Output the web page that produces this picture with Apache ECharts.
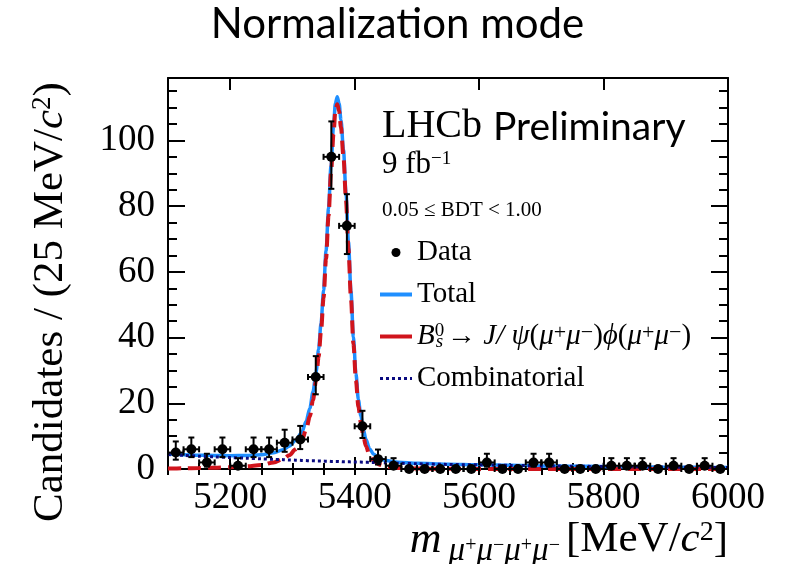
<!DOCTYPE html>
<html>
<head>
<meta charset="utf-8">
<script src="https://cdn.jsdelivr.net/npm/echarts@6/dist/echarts.min.js"></script>
<style>html,body{margin:0;padding:0;background:#fff}#c{width:795px;height:564px}</style>
</head>
<body>
<div id="c"></div>
<script>
// ---- data ----
const binHalfWidth = 12.5;
const binCenters = [5112.5,5137.5,5162.5,5187.5,5212.5,5237.5,5262.5,5287.5,5312.5,5337.5,5362.5,5387.5,5412.5,5437.5,5462.5,5487.5,5512.5,5537.5,5562.5,5587.5,5612.5,5637.5,5662.5,5687.5,5712.5,5737.5,5762.5,5787.5,5812.5,5837.5,5862.5,5887.5,5912.5,5937.5,5962.5,5987.5];
const dataCounts = [5,6,2,6,1,6,6,8,9,28,95,74,13,3,1,0,0,0,0,0,2,0,0,2,2,0,0,0,1,1,1,0,1,0,1,0];
const errLow  = [2.16,2.38,1.29,2.38,0.83,2.38,2.38,2.77,2.94,5.27,9.73,8.58,3.56,1.63,0.83,0,0,0,0,0,1.29,0,0,1.29,1.29,0,0,0,0.83,0.83,0.83,0,0.83,0,0.83,0];
const errHigh = [3.38,3.58,2.64,3.58,2.30,3.58,3.58,3.95,4.11,6.35,10.79,9.64,4.71,2.92,2.30,0,0,0,0,0,2.64,0,0,2.64,2.64,0,0,0,2.30,2.30,2.30,0,2.30,0,2.30,0];

const curveMass = [5100,5125,5150,5175,5200,5225,5250,5270,5285,5295,5305,5315,5322,5328,5333,5338,5342,5346,5350,5354,5358,5362,5366,5369,5372,5375,5378,5382,5386,5390,5394,5398,5402,5406,5410,5414,5418,5424,5430,5440,5450,5470,5500,5550,5600,5650,5700,5750,5800,5850,5900,5950,6000];
const totalCurve = [4.55,4.35,4.2,4.1,4.05,4.1,4.3,4.95,5.85,6.95,8.7,11.1,14.55,18.5,23.5,29.45,36.45,44.4,54.4,66.35,79.35,92.3,104.3,111.3,113.3,111.25,106.25,97.2,84.2,69.2,54.15,40.15,29.1,21.1,16.1,12.05,9.05,6.2,4.6,3.25,2.55,2.05,1.72,1.45,1.27,1.11,0.95,0.85,0.75,0.65,0.57,0.5,0.44];
const signalCurve = [0.15,0.2,0.3,0.4,0.55,0.8,1.2,2.0,3.0,4.2,6.0,8.5,12,16,21,27,34,42,52,64,77,90,102,109,111,109,104,95,82,67,52,38,27,19,14,10,7,4.2,2.6,1.3,0.7,0.3,0.12,0.05,0.02,0.01,0,0,0,0,0,0,0];
const combCurve = [4.4,4.15,3.9,3.7,3.5,3.3,3.1,2.95,2.85,2.75,2.7,2.6,2.55,2.5,2.5,2.45,2.45,2.4,2.4,2.35,2.35,2.3,2.3,2.3,2.3,2.25,2.25,2.2,2.2,2.2,2.15,2.15,2.1,2.1,2.1,2.05,2.05,2.0,2.0,1.95,1.85,1.75,1.6,1.4,1.25,1.1,0.95,0.85,0.75,0.65,0.57,0.5,0.44];

const xMin = 5100, xMax = 6000, yMin = 0, yMax = 119;
const xMajor = 200, xMinor = 50, yMajor = 20, yMinor = 5;

// ---- chart ----
const serif = 'Liberation Serif';
const blue = '#1f8fff', red = '#d0141c', navy = '#0a0a80';
const chart = echarts.init(document.getElementById('c'), null, {renderer: 'canvas'});

const pair = (xs, ys) => xs.map((x, i) => [x, ys[i]]);
const frameLine = {show: true, onZero: false, lineStyle: {color: '#000', width: 2}};

function xAx(pos, major) {
  const a = {
    type: 'value', position: pos, min: xMin, max: xMax, gridIndex: 0,
    axisLine: major ? frameLine : {show: false},
    axisTick: {show: true, inside: true, length: major ? 12 : 6, lineStyle: {color: '#000', width: 2}},
    axisLabel: {show: false},
    splitLine: {show: false}
  };
  if (major) { a.minInterval = xMajor; a.maxInterval = xMajor; } else { a.interval = xMinor; }
  return a;
}
function yAx(pos, major) {
  return {
    type: 'value', position: pos, min: yMin, max: yMax, interval: major ? yMajor : yMinor, gridIndex: 0,
    axisLine: major ? frameLine : {show: false},
    axisTick: {show: true, inside: true, length: major ? 17 : 9, lineStyle: {color: '#000', width: 2}},
    axisLabel: {show: false},
    splitLine: {show: false}
  };
}
const xAxes = [xAx('bottom', true), xAx('top', true), xAx('bottom', false), xAx('top', false)];
xAxes[0].axisLabel = {show: true, fontFamily: serif, fontSize: 37, color: '#000', margin: 11,
  formatter: v => (v % xMajor === 0 ? String(v) : '')};
const yAxes = [yAx('left', true), yAx('right', true), yAx('left', false), yAx('right', false)];
yAxes[0].axisLabel = {show: true, fontFamily: serif, fontSize: 37, color: '#000', margin: 13,
  formatter: v => (v % yMajor === 0 && v <= 100 ? String(v) : '')};

const bsName = 'Bs';
const legendRich = {
  n: {fontFamily: serif, fontSize: 29, lineHeight: 29, color: '#000'},
  it: {fontFamily: serif, fontSize: 29, lineHeight: 29, fontStyle: 'italic', color: '#000'},
  sup0: {fontFamily: serif, fontSize: 19, lineHeight: 10, verticalAlign: 'top', color: '#000', width: 1},
  subs: {fontFamily: serif, fontSize: 19, lineHeight: 10, verticalAlign: 'bottom', fontStyle: 'italic', color: '#000', padding: [0, 4, 0, 0]},
  sp: {fontFamily: serif, fontSize: 22, lineHeight: 10, verticalAlign: 'top', color: '#000'}
};

chart.setOption({
  animation: false,
  backgroundColor: '#fff',
  title: {text: 'Normalization mode', left: 'center', top: -2,
    textStyle: {fontFamily: 'Lato', fontSize: 42, fontWeight: 'normal', color: '#000'}},
  grid: {left: 168, right: 67, top: 78, bottom: 95, containLabel: false, outerBoundsMode: 'none'},
  xAxis: xAxes,
  yAxis: yAxes,
  legend: {
    orient: 'vertical', left: 378, top: 238, itemWidth: 32, itemHeight: 9, itemGap: 13, padding: 0,
    data: [
      {name: 'Data', itemStyle: {color: '#000', opacity: 1}},
      {name: 'Total', itemStyle: {opacity: 0}, lineStyle: {color: blue, width: 4, type: 'solid', opacity: 1}},
      {name: bsName, itemStyle: {opacity: 0}, lineStyle: {color: red, width: 4, type: 'solid', opacity: 1}},
      {name: 'Combinatorial', itemStyle: {opacity: 0}, lineStyle: {color: navy, width: 3, type: [3, 3], opacity: 1}}
    ],
    textStyle: {fontFamily: serif, fontSize: 29, lineHeight: 29, color: '#000', rich: legendRich},
    formatter: name => name === bsName
      ? '{it|B}{sup0|0}{subs|s}{n|→ }{it|J/ ψ}{n|(}{it|μ}{sp|+}{it|μ}{sp|−}{n|)}{it|ϕ}{n|(}{it|μ}{sp|+}{it|μ}{sp|−}{n|)}'
      : name,
    selectedMode: false
  },
  series: [
    {name: 'Total', type: 'line', data: pair(curveMass, totalCurve), symbol: 'none', smooth: 0.3, smoothMonotone: 'x',
      lineStyle: {color: blue, width: 3.5}, itemStyle: {color: blue}, z: 2},
    {name: bsName, type: 'line', data: pair(curveMass, signalCurve), symbol: 'none', smooth: 0.3, smoothMonotone: 'x',
      lineStyle: {color: red, width: 4, type: [13, 7]}, itemStyle: {color: red}, z: 3},
    {name: 'Combinatorial', type: 'line', data: pair(curveMass, combCurve), symbol: 'none', smooth: 0.3,
      lineStyle: {color: navy, width: 3, type: [3, 3]}, itemStyle: {color: navy}, z: 4},
    {name: 'errors', type: 'custom', z: 5, silent: true,
      data: binCenters.map((x, i) => [x, dataCounts[i], errLow[i], errHigh[i]]),
      renderItem: function (params, api) {
        const x = api.value(0), y = api.value(1), lo = api.value(2), hi = api.value(3);
        const c = api.coord([x, y]);
        const l = api.coord([x - binHalfWidth, y]);
        const r = api.coord([x + binHalfWidth, y]);
        const st = {stroke: '#000', lineWidth: 2};
        const ch = [
          {type: 'line', shape: {x1: l[0], y1: c[1], x2: r[0], y2: c[1]}, style: st},
          {type: 'line', shape: {x1: l[0], y1: c[1] - 3, x2: l[0], y2: c[1] + 3}, style: st},
          {type: 'line', shape: {x1: r[0], y1: c[1] - 3, x2: r[0], y2: c[1] + 3}, style: st}
        ];
        if (hi > 0) {
          const t = api.coord([x, y + hi]);
          const b = api.coord([x, y - lo]);
          ch.push({type: 'line', shape: {x1: c[0], y1: t[1], x2: c[0], y2: b[1]}, style: st});
          ch.push({type: 'line', shape: {x1: c[0] - 3, y1: t[1], x2: c[0] + 3, y2: t[1]}, style: st});
          ch.push({type: 'line', shape: {x1: c[0] - 3, y1: b[1], x2: c[0] + 3, y2: b[1]}, style: st});
        }
        return {type: 'group', children: ch};
      }},
    {name: 'Data', type: 'scatter', data: pair(binCenters, dataCounts), symbol: 'circle', symbolSize: 10,
      itemStyle: {color: '#000', opacity: 1}, z: 6}
  ],
  graphic: [
    {type: 'text', x: 382, y: 126, style: {text: 'LHCb', fontFamily: serif, fontSize: 40, fill: '#000', align: 'left', verticalAlign: 'middle'}},
    {type: 'text', x: 493, y: 127, style: {text: 'Preliminary', fontFamily: 'Lato', fontSize: 39, fill: '#000', align: 'left', verticalAlign: 'middle'}},
    {type: 'text', x: 382, y: 165, style: {text: '{a|9 fb}{s|−1}', align: 'left', verticalAlign: 'middle',
      rich: {a: {fontFamily: serif, fontSize: 31, lineHeight: 31, fill: '#000'},
             s: {fontFamily: serif, fontSize: 19, lineHeight: 8, verticalAlign: 'top', fill: '#000'}}}},
    {type: 'text', x: 382, y: 210, style: {text: '0.05 ≤ BDT < 1.00', fontFamily: serif, fontSize: 21, fill: '#000', align: 'left', verticalAlign: 'middle'}},
    {type: 'text', x: 51, y: 302, rotation: Math.PI / 2, style: {
      text: '{n|Candidates / (25 MeV/}{i|c}{s|2}{n|)}', align: 'center', verticalAlign: 'middle',
      rich: {n: {fontFamily: serif, fontSize: 43, lineHeight: 43, fill: '#000'},
             i: {fontFamily: serif, fontSize: 43, lineHeight: 43, fontStyle: 'italic', fill: '#000'},
             s: {fontFamily: serif, fontSize: 27, lineHeight: 20, verticalAlign: 'top', fill: '#000'}}}},
    {type: 'text', x: 728, y: 540, style: {
      text: '{m|m}{u|μ}{p|+}{u|μ}{p|−}{u|μ}{p|+}{u|μ}{p|−}{b|[MeV/}{i|c}{s|2}{n|]}', align: 'right', verticalAlign: 'middle',
      rich: {m: {fontFamily: serif, fontSize: 44, lineHeight: 56, fontStyle: 'italic', fill: '#000', padding: [0, 7, 0, 0]},
             b: {fontFamily: serif, fontSize: 43, lineHeight: 56, fill: '#000', padding: [0, 0, 0, 6]},
             n: {fontFamily: serif, fontSize: 43, lineHeight: 56, fill: '#000'},
             i: {fontFamily: serif, fontSize: 43, lineHeight: 56, fontStyle: 'italic', fill: '#000'},
             s: {fontFamily: serif, fontSize: 28, lineHeight: 28, verticalAlign: 'top', fill: '#000', padding: [7, 0, 0, 0]},
             u: {fontFamily: serif, fontSize: 33, lineHeight: 33, verticalAlign: 'bottom', fontStyle: 'italic', fill: '#000'},
             p: {fontFamily: serif, fontSize: 20, lineHeight: 20, verticalAlign: 'bottom', fill: '#000', padding: [0, 0, 12, 0]}}}}
  ]
});
</script>
</body>
</html>
